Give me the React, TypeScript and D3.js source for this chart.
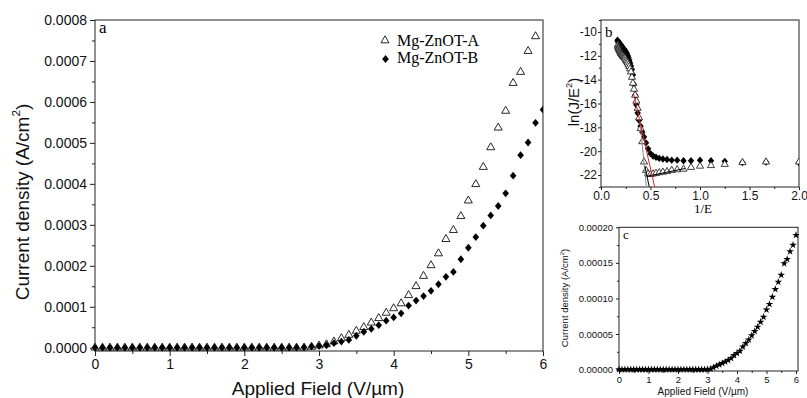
import React, { useEffect, useRef } from 'react';
import * as d3 from 'd3';

const SANS = '"Liberation Sans", Arial, sans-serif';
const SERIF = '"Liberation Serif", "Times New Roman", serif';
const INK = '#222';

// panel a : J-E curves, current in units of 1e-4 A/cm2
const field = [
  0, 0.1, 0.2, 0.3, 0.4, 0.5, 0.6, 0.7, 0.8, 0.9,
  1.0, 1.1, 1.2, 1.3, 1.4, 1.5, 1.6, 1.7, 1.8, 1.9,
  2.0, 2.1, 2.2, 2.3, 2.4, 2.5, 2.6, 2.7, 2.8, 2.9,
  3.0, 3.1, 3.2, 3.3, 3.4, 3.5, 3.6, 3.7, 3.8, 3.9,
  4.0, 4.1, 4.2, 4.3, 4.4, 4.5, 4.6, 4.7, 4.8, 4.9,
  5.0, 5.1, 5.2, 5.3, 5.4, 5.5, 5.6, 5.7, 5.8, 5.9, 6.0
];
const currentA = [
  0, 0, 0, 0, 0, 0, 0, 0, 0, 0,
  0, 0, 0, 0, 0, 0, 0, 0, 0, 0,
  0, 0, 0, 0, 0, 0, 0, 0, 0, 0.02,
  0.05, 0.08, 0.15, 0.23, 0.31, 0.41, 0.50, 0.61, 0.72, 0.85,
  0.96, 1.08, 1.28, 1.50, 1.75, 2.01, 2.30, 2.65, 2.87, 3.21,
  3.59, 3.99, 4.41, 4.89, 5.37, 5.78, 6.46, 6.73, 7.24, 7.60
];
const currentB = [
  0, 0, 0, 0, 0, 0, 0, 0, 0, 0,
  0, 0, 0, 0, 0, 0, 0, 0, 0, 0,
  0, 0, 0, 0, 0, 0, 0, 0, 0.01, 0.03,
  0.04, 0.06, 0.11, 0.15, 0.19, 0.29, 0.39, 0.46, 0.55, 0.66,
  0.74, 0.84, 1.03, 1.15, 1.26, 1.39, 1.55, 1.73, 1.85, 2.16,
  2.44, 2.70, 2.98, 3.23, 3.46, 3.77, 4.20, 4.70, 5.01, 5.49, 5.81
];
const aYTicks = [0, 1, 2, 3, 4, 5, 6, 7, 8];
const aYMinor = [0.5, 1.5, 2.5, 3.5, 4.5, 5.5, 6.5, 7.5];
const aXTicks = [0, 1, 2, 3, 4, 5, 6];
const aXMinor = [0.5, 1.5, 2.5, 3.5, 4.5, 5.5];

// panel b : F-N plot, ln(J/E^2) vs 1/E
const invE = [
  0.1667, 0.1695, 0.1724, 0.1754, 0.1786, 0.1818, 0.1852, 0.1887, 0.1923, 0.1961,
  0.2, 0.2041, 0.2083, 0.2128, 0.2174, 0.2222, 0.2273, 0.2326, 0.2381, 0.2439,
  0.25, 0.2564, 0.2632, 0.2703, 0.2778, 0.2857, 0.2941, 0.3030, 0.3125, 0.3226,
  0.3333, 0.3448, 0.3571, 0.3704, 0.3846, 0.4, 0.4167, 0.4348, 0.4545, 0.4762,
  0.5, 0.5263, 0.5556, 0.5882, 0.625, 0.6667, 0.7143, 0.7692, 0.8333, 0.9091,
  1.0, 1.1111, 1.25, 1.4286, 1.6667, 2.0
];
const lnB = [
  -10.7, -10.75, -10.8, -10.85, -10.9, -10.92, -10.95, -11.0, -11.0, -11.05,
  -11.1, -11.15, -11.2, -11.25, -11.3, -11.35, -11.4, -11.45, -11.5, -11.6,
  -11.65, -11.75, -11.85, -12.0, -12.15, -12.35, -12.6, -12.85, -13.15, -13.6,
  -14.4, -15.3, -16.1, -16.8, -17.4, -17.9, -18.4, -18.8, -19.3, -19.8,
  -20.2, -20.4, -20.5, -20.6, -20.65, -20.7, -20.75, -20.75, -20.8, -20.8,
  -20.75, -20.8, -20.85, -20.95, -20.9, -20.95
];
// sample A has no point at E = 6.0, so it starts at 1/E = 0.1695
const lnA = [
  -11.1, -11.2, -11.3, -11.35, -11.4, -11.5, -11.55, -11.6, -11.7,
  -11.75, -11.8, -11.85, -11.9, -11.95, -12.0, -12.05, -12.1, -12.15, -12.2,
  -12.3, -12.4, -12.5, -12.6, -12.75, -12.9, -13.1, -13.35, -13.8, -14.3,
  -14.8, -15.3, -15.8, -16.4, -17.2, -18.1, -19.2, -20.9, -21.6, -21.9,
  -21.95, -21.9, -21.85, -21.8, -21.75, -21.7, -21.6, -21.55, -21.5, -21.35,
  -21.25, -21.2, -21.1, -20.95, -20.9, -20.9
];
const fitRed = [[0.33, -15.2], [0.545, -23.1]];
const fitGray = [[0.395, -17.6], [0.46, -23.1]];
const fitSteep = [[0.445, -21.3], [0.49, -23.1]];
const fitFlat = [[0.465, -22.1], [0.85, -21.45]];
const bYTicks = [-22, -20, -18, -16, -14, -12, -10];
const bYMinor = [-23, -21, -19, -17, -15, -13, -11, -9];
const bXTicks = [0, 0.5, 1.0, 1.5, 2.0];
const bXMinor = [0.25, 0.75, 1.25, 1.75];

// panel c : current in units of 1e-5 A/cm2
const currentC = [
  0, 0, 0, 0, 0, 0, 0, 0, 0, 0,
  0, 0, 0, 0, 0, 0, 0, 0, 0, 0,
  0, 0, 0, 0, 0, 0, 0, 0, 0, 0,
  0.05, 0.1, 0.3, 0.5, 0.7, 0.9, 1.1, 1.3, 1.6, 2.0,
  2.3, 2.6, 3.2, 3.7, 4.2, 4.8, 5.4, 6.0, 6.7, 7.4,
  8.4, 9.2, 10.2, 11.3, 12.3, 13.3, 14.9, 15.5, 16.6, 17.5, 18.9
];
const cYTicks = [0, 5, 10, 15, 20];
const cYMinor = [2.5, 7.5, 12.5, 17.5];
const cXTicks = [0, 1, 2, 3, 4, 5, 6];
const cXMinor = [0.5, 1.5, 2.5, 3.5, 4.5, 5.5];

const diamond = (w: number, h: number) => `M0,${-h}L${w},0L0,${h}L${-w},0Z`;

function drawAxes(svg: any, x: any, y: any, o: any) {
  const [x0, x1] = x.range();
  const [y1, y0] = y.range();
  const style = (g: any) => {
    g.select('.domain').remove();
    g.selectAll('line').attr('stroke', INK);
    g.selectAll('text').attr('font-family', SANS).attr('font-size', o.fs).attr('fill', '#111');
  };
  svg.append('g').attr('transform', `translate(${x0},0)`)
    .call(d3.axisLeft(y).tickValues(o.yTicks).tickSize(o.major).tickPadding(o.pad).tickFormat(o.yFmt))
    .call(style);
  svg.append('g').attr('transform', `translate(${x0},0)`)
    .call(d3.axisLeft(y).tickValues(o.yMinor).tickSize(o.minor).tickFormat(() => ''))
    .call(style);
  svg.append('g').attr('transform', `translate(0,${y1})`)
    .call(d3.axisBottom(x).tickValues(o.xTicks).tickSize(o.major).tickPadding(o.xpad).tickFormat(o.xFmt))
    .call(style);
  svg.append('g').attr('transform', `translate(0,${y1})`)
    .call(d3.axisBottom(x).tickValues(o.xMinor).tickSize(o.minor).tickFormat(() => ''))
    .call(style);
  svg.append('rect')
    .attr('x', x0).attr('y', y0).attr('width', (o.right || x1) - x0).attr('height', y1 - y0)
    .attr('fill', 'none').attr('stroke', INK).attr('stroke-width', 1);
}

function supLabel(svg: any, x: number, y: number, fs: number, pre: string, post: string, rotate: boolean) {
  const t = svg.append('text')
    .attr('transform', rotate ? `translate(${x},${y}) rotate(-90)` : `translate(${x},${y})`)
    .attr('text-anchor', 'middle').attr('font-family', SANS).attr('font-size', fs).attr('fill', '#111');
  t.append('tspan').text(pre);
  t.append('tspan').attr('dy', -fs * 0.45).attr('font-size', fs * 0.62).text('2');
  t.append('tspan').attr('dy', fs * 0.45).text(post);
}

function App() {
  const ref = useRef<SVGSVGElement>(null);

  useEffect(() => {
    const svg = d3.select(ref.current);
    svg.selectAll('*').remove();

    // ---------- panel a ----------
    const xa = d3.scaleLinear().domain([0, 6]).range([95, 543]);
    const ya = d3.scaleLinear().domain([-0.08, 8]).range([351, 20]);
    drawAxes(svg, xa, ya, {
      yTicks: aYTicks, yMinor: aYMinor, xTicks: aXTicks, xMinor: aXMinor,
      yFmt: (d: number) => (d * 1e-4).toFixed(4), xFmt: (d: number) => String(d),
      fs: 14, major: 5, minor: 3, pad: 3, xpad: 3
    });
    const tri = d3.symbol(d3.symbolTriangle, 28)();
    const clipA = svg.append('clipPath').attr('id', 'clipA');
    clipA.append('rect').attr('x', 88).attr('y', 20).attr('width', 455).attr('height', 335);
    const ga = svg.append('g').attr('clip-path', 'url(#clipA)');
    ga.selectAll('.ta').data(currentA).enter().append('path')
      .attr('d', tri)
      .attr('transform', (d, i) => `translate(${xa(field[i])},${ya(d)})`)
      .attr('fill', 'white').attr('stroke', '#111').attr('stroke-width', 0.9);
    ga.selectAll('.db').data(currentB).enter().append('path')
      .attr('d', diamond(3.3, 3.9))
      .attr('transform', (d, i) => `translate(${xa(field[i])},${ya(d)})`)
      .attr('fill', '#000');

    // legend
    svg.append('path').attr('d', tri).attr('transform', 'translate(385,40.5)')
      .attr('fill', 'white').attr('stroke', '#111').attr('stroke-width', 0.9);
    svg.append('path').attr('d', diamond(3.3, 3.9)).attr('transform', 'translate(385.5,59)').attr('fill', '#000');
    svg.append('text').attr('x', 397).attr('y', 46).attr('font-family', SERIF).attr('font-size', 16).text('Mg-ZnOT-A');
    svg.append('text').attr('x', 397).attr('y', 62.5).attr('font-family', SERIF).attr('font-size', 16).text('Mg-ZnOT-B');
    svg.append('text').attr('x', 99).attr('y', 33).attr('font-family', SERIF).attr('font-size', 17).text('a');

    supLabel(svg, 29, 202, 19, 'Current density (A/cm', ')', true);
    svg.append('text').attr('x', 318).attr('y', 395).attr('text-anchor', 'middle')
      .attr('font-family', SANS).attr('font-size', 19).attr('fill', '#111').text('Applied Field (V/µm)');

    // ---------- panel b ----------
    const xb = d3.scaleLinear().domain([0, 2]).range([601, 799]);
    const yb = d3.scaleLinear().domain([-23, -9]).range([187, 20]);
    drawAxes(svg, xb, yb, {
      yTicks: bYTicks, yMinor: bYMinor, xTicks: bXTicks, xMinor: bXMinor,
      yFmt: (d: number) => String(d), xFmt: (d: number) => d.toFixed(1),
      fs: 12, major: 3, minor: 2, pad: 1, xpad: 1
    });
    const clipB = svg.append('clipPath').attr('id', 'clipB');
    clipB.append('rect').attr('x', 601).attr('y', 20).attr('width', 198).attr('height', 167);
    const gb = svg.append('g').attr('clip-path', 'url(#clipB)');
    const triB = d3.symbol(d3.symbolTriangle, 22)();
    gb.selectAll('.db').data(lnB).enter().append('path')
      .attr('d', diamond(3.2, 3.7))
      .attr('transform', (d, i) => `translate(${xb(invE[i])},${yb(d)})`)
      .attr('fill', '#000');
    gb.selectAll('.ta').data(lnA).enter().append('path')
      .attr('d', triB)
      .attr('transform', (d, i) => `translate(${xb(invE[i + 1])},${yb(d)})`)
      .attr('fill', 'white').attr('stroke', '#111').attr('stroke-width', 0.8);
    const line = d3.line<number[]>().x(d => xb(d[0])).y(d => yb(d[1]));
    gb.append('path').attr('d', line(fitGray)).attr('stroke', '#888').attr('stroke-width', 1).attr('fill', 'none');
    gb.append('path').attr('d', line(fitSteep)).attr('stroke', '#000').attr('stroke-width', 1).attr('fill', 'none');
    gb.append('path').attr('d', line(fitFlat)).attr('stroke', '#000').attr('stroke-width', 1).attr('fill', 'none');
    gb.append('path').attr('d', line(fitRed)).attr('stroke', '#e8202a').attr('stroke-width', 1).attr('fill', 'none');

    svg.append('text').attr('x', 605).attr('y', 36.5).attr('font-family', SERIF).attr('font-size', 15).text('b');
    supLabel(svg, 579, 102, 15, 'ln(J/E', ')', true);
    svg.append('text').attr('x', 703).attr('y', 213).attr('text-anchor', 'middle')
      .attr('font-family', SERIF).attr('font-size', 13).text('1/E');

    // ---------- panel c ----------
    const xc = d3.scaleLinear().domain([0, 6]).range([619, 796]);
    const yc = d3.scaleLinear().domain([-0.2, 20]).range([371, 227.3]);
    drawAxes(svg, xc, yc, {
      yTicks: cYTicks, yMinor: cYMinor, xTicks: cXTicks, xMinor: cXMinor,
      yFmt: (d: number) => (d * 1e-5).toFixed(5), xFmt: (d: number) => String(d),
      fs: 9.5, major: 3, minor: 2, pad: 3, xpad: 2, right: 798
    });
    const star = d3.symbol(d3.symbolStar, 18)();
    svg.append('g').selectAll('path').data(currentC).enter().append('path')
      .attr('d', star)
      .attr('transform', (d, i) => `translate(${xc(field[i])},${yc(d)})`)
      .attr('fill', '#000');
    svg.append('text').attr('x', 623).attr('y', 239).attr('font-family', SERIF).attr('font-size', 13).text('c');
    supLabel(svg, 568, 298, 9.5, 'Current density (A/cm', ')', true);
    svg.append('text').attr('x', 703).attr('y', 395).attr('text-anchor', 'middle')
      .attr('font-family', SANS).attr('font-size', 10).attr('fill', '#111').text('Applied Field (V/µm)');
  }, []);

  return (
    <svg ref={ref} width={807} height={398}
      style={{ position: 'absolute', left: 0, top: 0, background: '#fff' }} />
  );
}

export default App;
